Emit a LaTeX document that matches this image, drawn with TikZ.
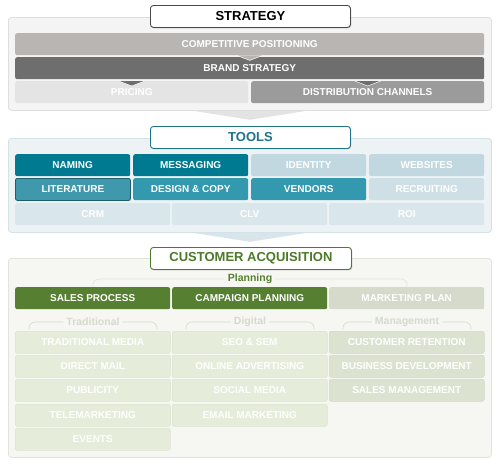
\documentclass[tikz,border=0pt]{standalone}
\usepackage{fontspec}
\setmainfont{Liberation Sans}
\usetikzlibrary{shadows}

\definecolor{strpanel}{HTML}{F4F4F4}
\definecolor{strline}{HTML}{DEDEDE}
\definecolor{strhead}{HTML}{4A4A4A}
\definecolor{compgray}{HTML}{B9B5B3}
\definecolor{brandgray}{HTML}{6E6E6E}
\definecolor{pricegray}{HTML}{E4E4E4}
\definecolor{distgray}{HTML}{9B9B9B}
\definecolor{strarrow}{HTML}{E3E3E3}
\definecolor{toolpanel}{HTML}{EDF3F5}
\definecolor{toolline}{HTML}{D3E2E7}
\definecolor{toolhead}{HTML}{1F7489}
\definecolor{tealdark}{HTML}{007A91}
\definecolor{tealmid}{HTML}{3399AE}
\definecolor{teallit}{HTML}{3F98AB}
\definecolor{tealedge}{HTML}{1D5F6E}
\definecolor{teallight}{HTML}{C2D8E0}
\definecolor{tealpale}{HTML}{D9E7EC}
\definecolor{toolarrow}{HTML}{D8E6EB}
\definecolor{acqpanel}{HTML}{F6F7F2}
\definecolor{acqline}{HTML}{E1E4DA}
\definecolor{acqhead}{HTML}{4C7A28}
\definecolor{green}{HTML}{567F32}
\definecolor{greenpale}{HTML}{D5DACB}
\definecolor{greenlbl}{HTML}{D6DACD}
\definecolor{greenbox}{HTML}{E5EDDA}
\definecolor{greenboxline}{HTML}{DBE4CF}
\definecolor{mgmtbox}{HTML}{DBE3D0}
\definecolor{mgmtline}{HTML}{D2DBC5}

\tikzset{
  panel/.style 2 args={draw=#2, fill=#1, line width=0.8pt, rounded corners=3pt,
    anchor=north west, minimum width=483pt, inner sep=0pt},
  head/.style={draw=#1, text=#1, fill=white, line width=0.9pt, rounded corners=3pt,
    anchor=north west, minimum height=22pt, minimum width=200pt, inner sep=0pt,
    font=\fontsize{13}{13}\selectfont\bfseries,
    drop shadow={shadow xshift=0.8pt, shadow yshift=-0.8pt, opacity=0.35}},
  bar/.style={fill=#1, text=white, rounded corners=2pt, anchor=north west,
    minimum height=22pt, inner sep=0pt, font=\fontsize{10}{10}\selectfont\bfseries},
  item/.style 2 args={bar=#1, draw=#2, line width=0.5pt, minimum width=155pt},
  quad/.style={bar=#1, minimum width=115pt},
  third/.style={bar=#1, minimum width=155pt},
  sublbl/.style={text=#1, inner sep=3pt, font=\fontsize{10.5}{10.5}\selectfont\bfseries},
  brk/.style={draw=#1, line width=0.6pt, rounded corners=6pt},
  notch/.style={fill=#1, draw=white, line width=0.5pt}
}

\begin{document}
\begin{tikzpicture}[x=1pt, y=-1pt]
\useasboundingbox (0,0) rectangle (500,466);

% strategy
\node[panel={strpanel}{strline}, minimum height=93pt] (strat) at (8,17) {};
\node[head=strhead, text=black] (strathd) at (150,5) {STRATEGY};
\node[bar=compgray, minimum width=469pt] (comp) at (15,33) {COMPETITIVE POSITIONING};
\node[bar=brandgray, minimum width=469pt] (brand) at (15,57) {BRAND STRATEGY};
\node[bar=pricegray, minimum width=233pt] (pricing) at (15,81) {PRICING};
\node[bar=distgray, minimum width=233pt] (distrib) at (251,81) {DISTRIBUTION CHANNELS};
\path[notch=compgray] ([xshift=-13pt]comp.south) -- ([yshift=-5pt]comp.south) -- ([xshift=13pt]comp.south);
\path[notch=brandgray] ([xshift=-13pt]pricing.north) -- ([yshift=-5pt]pricing.north) -- ([xshift=13pt]pricing.north);
\path[notch=brandgray] ([xshift=-13pt]distrib.north) -- ([yshift=-5pt]distrib.north) -- ([xshift=13pt]distrib.north);
\fill[strarrow] ([xshift=-57pt]strat.south) -- ([yshift=-9pt]strat.south) -- ([xshift=57pt]strat.south) -- cycle;

% tools
\node[panel={toolpanel}{toolline}, minimum height=94pt] (tools) at (8,138) {};
\node[head=toolhead] (toolshd) at (150,126) {TOOLS};
\node[quad=tealdark] (naming) at (15,154) {NAMING};
\node[quad=tealdark] (messaging) at (133,154) {MESSAGING};
\node[quad=teallight] (identity) at (251,154) {IDENTITY};
\node[quad=teallight] (websites) at (369,154) {WEBSITES};
\node[quad=teallit, draw=tealedge, line width=0.8pt,
  drop shadow={shadow xshift=0.6pt, shadow yshift=-0.8pt, opacity=0.45}] (literature) at (15,178) {LITERATURE};
\node[quad=tealmid] (design) at (133,178) {DESIGN \& COPY};
\node[quad=tealmid] (vendors) at (251,178) {VENDORS};
\node[quad=teallight!80!white] (recruiting) at (369,178) {RECRUITING};
\node[third=tealpale] (crm) at (15,203) {CRM};
\node[third=tealpale] (clv) at (172,203) {CLV};
\node[third=tealpale] (roi) at (329,203) {ROI};
\fill[toolarrow] ([xshift=-57pt]tools.south) -- ([yshift=-9pt]tools.south) -- ([xshift=57pt]tools.south) -- cycle;

% customer acquisition
\node[panel={acqpanel}{acqline}, minimum height=199pt] (acq) at (8,258) {};
\node[head=acqhead, minimum width=201pt] (acqhd) at (150,247) {CUSTOMER ACQUISITION};
\node[sublbl=green] (planning) at (250,279) {Planning};
\draw[brk=acqline] (93,287) |- (planning.west);
\draw[brk=acqline] (407,287) |- (planning.east);
\node[third=green] (sales) at (15,287) {SALES PROCESS};
\node[third=green] (campaign) at (172,287) {CAMPAIGN PLANNING};
\node[third=greenpale] (mplan) at (329,287) {MARKETING PLAN};

\node[sublbl=greenlbl] (trad) at (93,322) {Traditional};
\node[sublbl=greenlbl] (digital) at (250,322) {Digital};
\node[sublbl=greenlbl] (mgmt) at (407,322) {Management};
\draw[brk=greenlbl] (29,329) |- (trad.west);
\draw[brk=greenlbl] (157,329) |- (trad.east);
\draw[brk=greenlbl] (186,329) |- (digital.west);
\draw[brk=greenlbl] (314,329) |- (digital.east);
\draw[brk=greenlbl] (343,329) |- (mgmt.west);
\draw[brk=greenlbl] (471,329) |- (mgmt.east);

\node[item={greenbox}{greenboxline}] (tradmedia) at (15,331) {TRADITIONAL MEDIA};
\node[item={greenbox}{greenboxline}] (directmail) at (15,355) {DIRECT MAIL};
\node[item={greenbox}{greenboxline}] (publicity) at (15,379) {PUBLICITY};
\node[item={greenbox}{greenboxline}] (telemkt) at (15,404) {TELEMARKETING};
\node[item={greenbox}{greenboxline}] (events) at (15,428) {EVENTS};
\node[item={greenbox}{greenboxline}] (seo) at (172,331) {SEO \& SEM};
\node[item={greenbox}{greenboxline}] (online) at (172,355) {ONLINE ADVERTISING};
\node[item={greenbox}{greenboxline}] (social) at (172,379) {SOCIAL MEDIA};
\node[item={greenbox}{greenboxline}] (email) at (172,404) {EMAIL MARKETING};
\node[item={mgmtbox}{mgmtline}] (retention) at (329,331) {CUSTOMER RETENTION};
\node[item={mgmtbox}{mgmtline}] (busdev) at (329,355) {BUSINESS DEVELOPMENT};
\node[item={mgmtbox}{mgmtline}] (salesmgmt) at (329,379) {SALES MANAGEMENT};
\end{tikzpicture}
\end{document}
